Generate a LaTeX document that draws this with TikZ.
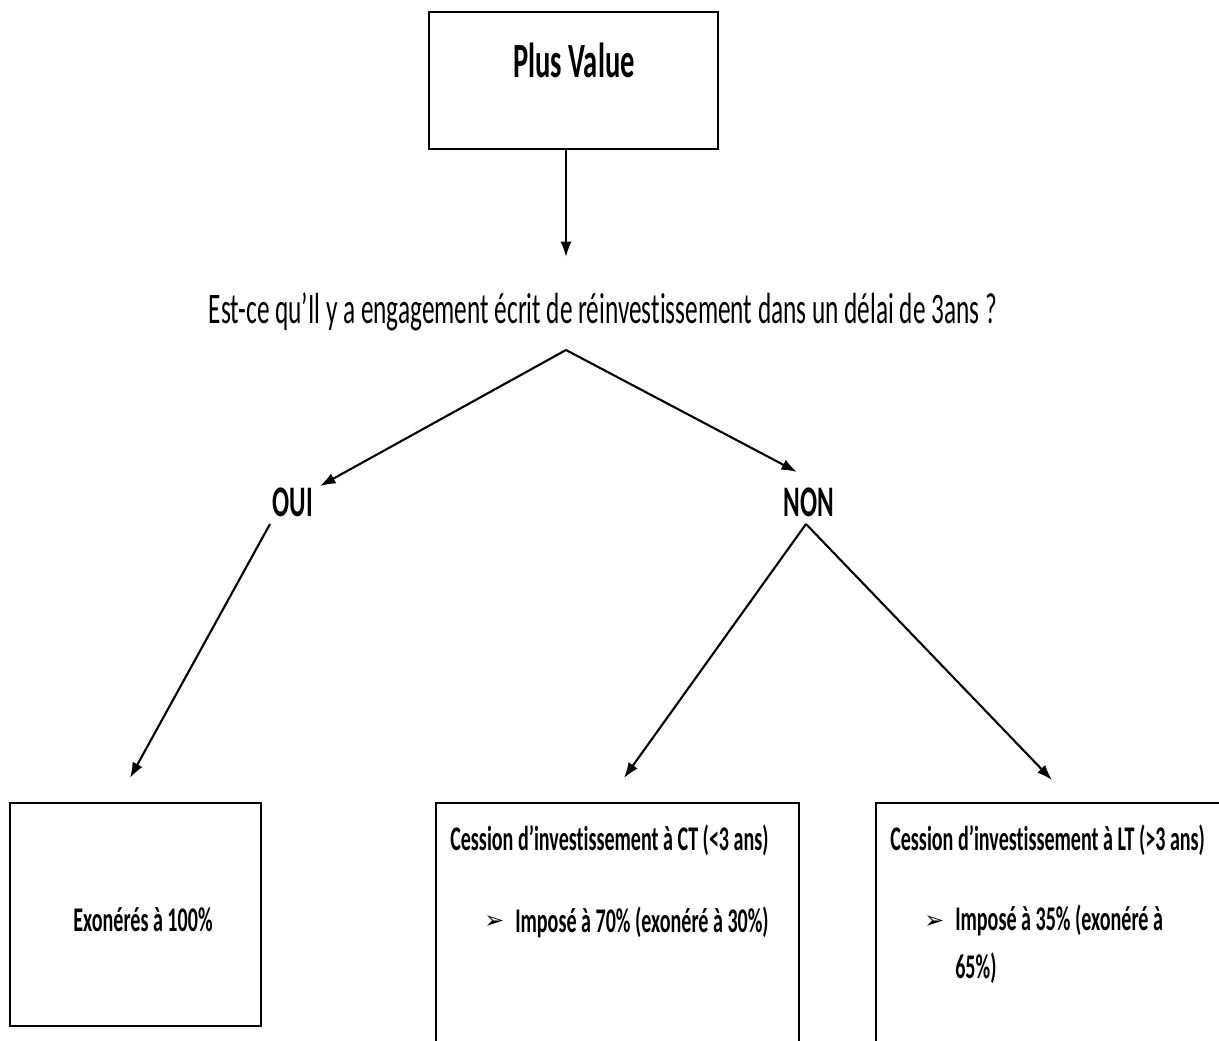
\documentclass[tikz,border=0pt]{standalone}
\usepackage{fontspec}
\setmainfont{Carlito}[FakeStretch=0.58, Ligatures=NoCommon]
\newfontfamily\symfont{DejaVu Sans}
\usetikzlibrary{positioning, arrows.meta}
\tikzset{
  box/.style={draw, line width=1.4pt, inner sep=0pt},
  lbl/.style={font=\fontsize{31}{36}\selectfont\bfseries, inner sep=0pt},
  txt/.style={font=\fontsize{24.6}{34}\selectfont\bfseries, anchor=west, inner sep=0pt, align=left},
  bul/.style={anchor=west, inner sep=0pt, font=\symfont\fontsize{17}{20}\selectfont\bfseries},
  arr/.style={-{Latex[length=11pt,width=8pt]}, line width=1.5pt},
}

\begin{document}
\begin{tikzpicture}[x=0.025cm, y=-0.025cm]
\useasboundingbox (0,0) rectangle (1219,1041);
\clip (0,0) rectangle (1219,1041);

% top
\node[box, minimum width=7.225cm, minimum height=3.425cm] (pv) at (573.5, 80.5) {};
\node[lbl, font=\fontsize{35}{40}\selectfont\bfseries] (pvt) at (574, 60) {Plus Value};
\node[font=\fontsize{31}{36}\selectfont, inner sep=0pt] (q) at (603, 312)
  {Est-ce qu’Il y a engagement écrit de réinvestissement dans un délai de 3ans ?};
\node[lbl] (oui) at (293, 502) {OUI};
\node[lbl] (non) at (809, 502) {NON};

\coordinate (qin) at (566, 257);
\coordinate (apex) at (566, 350);
\coordinate (ouiin) at (320, 486);
\coordinate (nonin) at (797, 472);
\coordinate (ouiout) at (270, 524);
\coordinate (nonout) at (806, 524);
\coordinate (exoin) at (130, 778);
\coordinate (ctin) at (624, 778);
\coordinate (ltin) at (1052, 780);

% bottom boxes
\node[box, minimum width=6.275cm, minimum height=5.575cm] (exo) at (135.5, 914.5) {};
\node[txt, anchor=center] (exot) at (143, 920) {Exonérés à 100\%};
\node[box, minimum width=9.075cm, minimum height=6.925cm] (ct) at (617.5, 941.5) {};
\node[box, minimum width=8.75cm, minimum height=6.925cm] (lt) at (1051, 941.5) {};

\node[txt] (ctA) at (450, 840) {Cession d’investissement à CT (<3 ans)};
\node[bul] (ctBul) at (484, 922) {➢};
\node[txt] (ctB) at (515, 922) {Imposé à 70\% (exonéré à 30\%)};

\node[txt] (ltA) at (890, 840) {Cession d’investissement à LT (>3 ans)};
\node[bul] (ltBul) at (924, 922) {➢};
\node[txt, anchor=north west] (ltB) at (955, 905) {Imposé à 35\% (exonéré à\\65\%)};

% connectors
\draw[arr] (pv.south -| qin) -- (qin);
\draw[arr] (apex) -- (ouiin);
\draw[arr] (apex) -- (nonin);
\draw[arr] (ouiout) -- (exoin);
\draw[arr] (nonout) -- (ctin);
\draw[arr] (nonout) -- (ltin);
\end{tikzpicture}
\end{document}
